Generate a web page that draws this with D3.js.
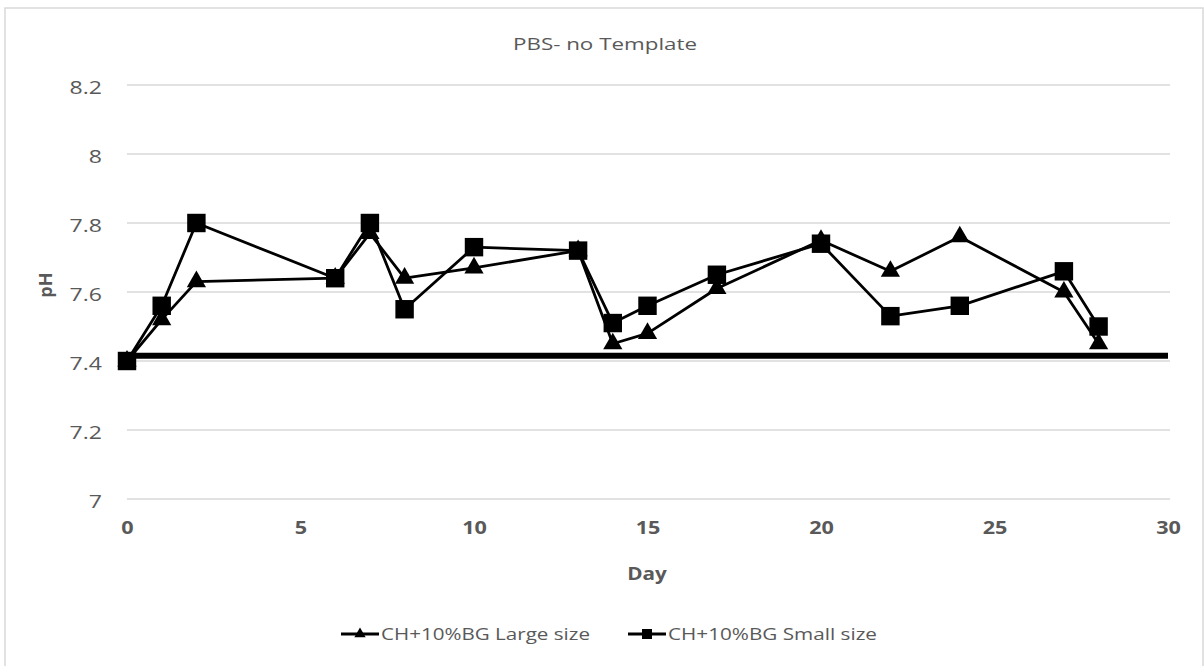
<!DOCTYPE html>
<html>
<head>
<meta charset="utf-8">
<script src="https://cdn.jsdelivr.net/npm/d3@7"></script>
<style>
  body { margin: 0; background: #fff; }
  svg { display: block; }
  text { font-family: "Open Sans", "Noto Sans", sans-serif; }
</style>
</head>
<body>
<svg id="chart" width="1204" height="666"></svg>
<script>
// pH readings per sampling day
const days       = [0, 1, 2, 6, 7, 8, 10, 13, 14, 15, 17, 20, 22, 24, 27, 28];
const largeSize  = [7.40, 7.52, 7.63, 7.64, 7.77, 7.64, 7.67, 7.72, 7.45, 7.48, 7.61, 7.75, 7.66, 7.76, 7.60, 7.45];
const smallSize  = [7.40, 7.56, 7.80, 7.64, 7.80, 7.55, 7.73, 7.72, 7.51, 7.56, 7.65, 7.74, 7.53, 7.56, 7.66, 7.50];
// reference pH level of the PBS buffer, drawn across the full day range
const bufferPH   = 7.415;
const bufferDays = [0, 30];

const xTicks = [0, 5, 10, 15, 20, 25, 30];
const yTicks = [7, 7.2, 7.4, 7.6, 7.8, 8, 8.2];
const seriesNames = ["CH+10%BG Large size", "CH+10%BG Small size"];
const chartTitle = "PBS- no Template";
const xTitle = "Day";
const yTitle = "pH";

const svg = d3.select("#chart");
const W = 1204, H = 666;
const plot = { left: 127, right: 1168, top: 85, bottom: 499 };
const textGray = "#595959";
const STRETCH = 1.28;   // widen glyphs horizontally

function stretch(sel, k) {
  sel.each(function () {
    const w = this.getComputedTextLength();
    d3.select(this).attr("textLength", w * k).attr("lengthAdjust", "spacingAndGlyphs");
  });
}
function fitTo(sel, w) {
  sel.attr("textLength", w).attr("lengthAdjust", "spacingAndGlyphs");
}

// outer frame
svg.append("rect")
  .attr("x", 5).attr("y", 8).attr("width", W - 6).attr("height", H + 10)
  .attr("fill", "#fff").attr("stroke", "#d9d9d9").attr("stroke-width", 1.5);

const x = d3.scaleLinear().domain([0, 30]).range([plot.left, plot.right]);
const y = d3.scaleLinear().domain([7, 8.2]).range([plot.bottom, plot.top]);

// horizontal gridlines
svg.append("g")
  .selectAll("line").data(yTicks).join("line")
  .attr("x1", x(0)).attr("x2", x(30) + 2)
  .attr("y1", d => y(d)).attr("y2", d => y(d))
  .attr("stroke", "#d9d9d9").attr("stroke-width", 1.3);

// y axis labels
const yAxis = svg.append("g")
  .attr("transform", `translate(${plot.left},0)`)
  .call(d3.axisLeft(y).tickValues(yTicks).tickSize(0).tickPadding(25).tickFormat(d => String(d)));
yAxis.select(".domain").remove();
yAxis.selectAll("text")
  .attr("font-size", 18).attr("fill", textGray).attr("dy", "0.45em")
  .style("font-family", '"Open Sans", sans-serif')
  .call(stretch, STRETCH);

// x axis labels
const xAxis = svg.append("g")
  .attr("transform", `translate(0,${plot.bottom})`)
  .call(d3.axisBottom(x).tickValues(xTicks).tickSize(0).tickPadding(22).tickFormat(d => String(d)));
xAxis.select(".domain").remove();
xAxis.selectAll("text")
  .attr("font-size", 18).attr("font-weight", "bold").attr("fill", textGray)
  .style("font-family", '"Open Sans", sans-serif')
  .call(stretch, 1.2);

// title and axis titles
svg.append("text")
  .attr("x", 605).attr("y", 50).attr("text-anchor", "middle")
  .attr("font-size", 17).attr("fill", textGray)
  .text(chartTitle).call(fitTo, 184);

svg.append("text")
  .attr("x", 647).attr("y", 580).attr("text-anchor", "middle")
  .attr("font-size", 18).attr("font-weight", "bold").attr("fill", textGray)
  .text(xTitle).call(stretch, 1.15);

svg.append("text")
  .attr("transform", `translate(52,${y(7.62)}) rotate(-90)`)
  .attr("text-anchor", "middle")
  .attr("font-size", 18).attr("font-weight", "bold").attr("fill", textGray)
  .text(yTitle);

// buffer reference line
svg.append("line")
  .attr("x1", x(bufferDays[0])).attr("x2", x(bufferDays[1]))
  .attr("y1", y(bufferPH)).attr("y2", y(bufferPH))
  .attr("stroke", "#000").attr("stroke-width", 6);

const line = d3.line().x(d => x(d[0])).y(d => y(d[1]));
const triangle = d3.symbol().type(d3.symbolTriangle);
const square = d3.symbol().type(d3.symbolSquare);

const series = [
  { name: seriesNames[0], values: largeSize, shape: triangle, size: 160, legendSize: 55 },
  { name: seriesNames[1], values: smallSize, shape: square,   size: 340, legendSize: 100 }
];

series.forEach(s => {
  const pts = days.map((d, i) => [d, s.values[i]]);
  const g = svg.append("g");
  g.append("path")
    .attr("d", line(pts))
    .attr("fill", "none").attr("stroke", "#000").attr("stroke-width", 2.8)
    .attr("stroke-linejoin", "round");
  g.selectAll("path.marker").data(pts).join("path")
    .attr("class", "marker")
    .attr("transform", d => `translate(${x(d[0])},${y(d[1])})`)
    .attr("d", s.shape.size(s.size)())
    .attr("fill", "#000");
});

// legend
const legendY = 634;
const legendX = [341, 628];
series.forEach((s, i) => {
  const g = svg.append("g").attr("transform", `translate(${legendX[i]},${legendY})`);
  g.append("line").attr("x1", 0).attr("x2", 38).attr("y1", 0).attr("y2", 0)
    .attr("stroke", "#000").attr("stroke-width", 2.8);
  g.append("path").attr("transform", "translate(19,0)")
    .attr("d", s.shape.size(s.legendSize)()).attr("fill", "#000");
  g.append("text").attr("x", 40).attr("y", 6)
    .attr("font-size", 17).attr("fill", textGray)
    .text(s.name).call(fitTo, 209);
});
</script>
</body>
</html>
